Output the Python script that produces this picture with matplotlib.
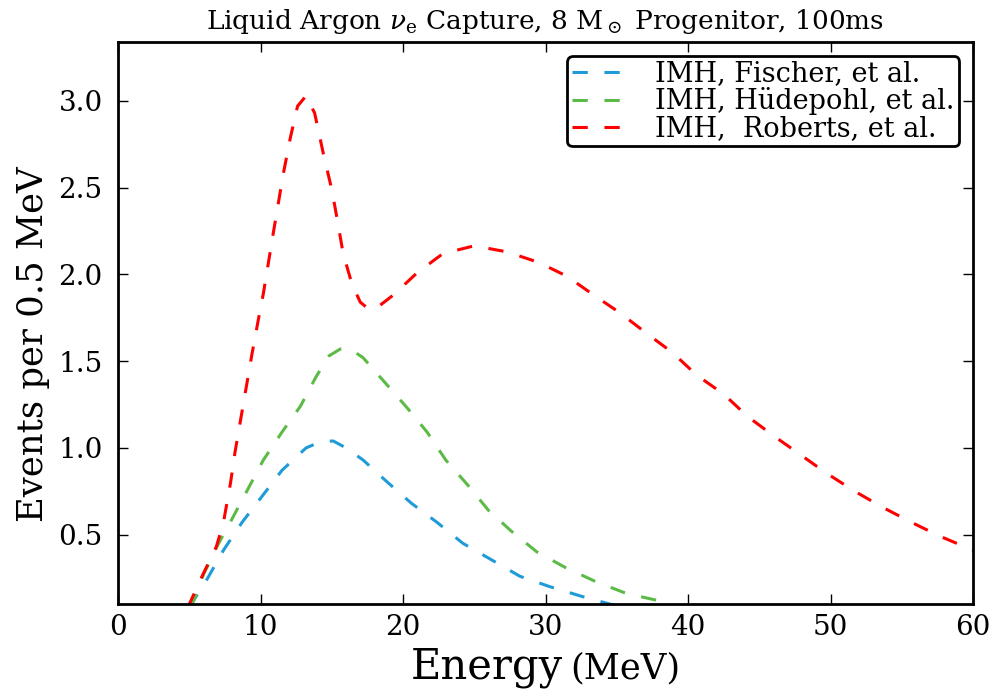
import numpy as np
import matplotlib
matplotlib.use("Agg")
import matplotlib.pyplot as plt

plt.rcParams['font.family'] = ['DejaVu Serif']
plt.rcParams['mathtext.fontset'] = 'dejavuserif'
plt.rcParams['lines.scale_dashes'] = False

# %%
# Fischer et al.
fis_E = [5.0, 5.3, 6.3, 7.4, 8.7, 10.1, 11.5, 13.2, 14.2, 15.1, 16.0, 17.2,
         18.8, 20.6, 22.4, 24.2, 26.1, 28.2, 30.3, 32.5, 34.5, 35.0]
fis_N = [0.08, 0.12, 0.25, 0.41, 0.57, 0.72, 0.87, 1.00, 1.035, 1.04, 1.00, 0.93,
         0.81, 0.68, 0.57, 0.45, 0.36, 0.26, 0.20, 0.145, 0.10, 0.09]

# Huedepohl et al.
hue_E = [5.0, 5.3, 6.0, 7.0, 8.0, 9.1, 10.2, 11.5, 12.8, 13.9, 14.8, 15.6, 16.3,
         17.2, 18.7, 20.3, 21.7, 23.0, 24.5, 26.0, 27.6, 29.4, 31.4, 33.5, 35.7,
         37.9, 38.6]
hue_N = [0.08, 0.116, 0.27, 0.44, 0.59, 0.76, 0.93, 1.09, 1.24, 1.41, 1.53, 1.57, 1.57,
         1.52, 1.38, 1.23, 1.09, 0.93, 0.79, 0.64, 0.52, 0.40, 0.31, 0.23, 0.16,
         0.12, 0.10]

# Roberts et al.
rob_E = [4.9, 5.9, 6.9, 7.4, 7.9, 8.2, 8.6, 9.0, 9.4, 9.85, 10.2, 10.9, 11.6, 12.1,
         12.6, 13.2, 13.8, 14.4, 15.0, 15.4, 15.8, 16.4, 17.0, 17.6, 18.2, 19.3,
         21.0, 22.8, 25.0, 27.3, 29.5, 31.5, 33.4, 35.2, 37.1, 38.9, 40.6, 42.5,
         44.2, 46.0, 47.9, 49.7, 51.7, 53.6, 55.7, 57.7, 60.0]
rob_N = [0.08, 0.26, 0.43, 0.57, 0.80, 0.97, 1.16, 1.35, 1.54, 1.74, 1.89, 2.24, 2.58, 2.79,
         2.97, 3.03, 2.93, 2.70, 2.49, 2.31, 2.12, 1.95, 1.84, 1.80, 1.81, 1.88,
         2.01, 2.12, 2.165, 2.13, 2.07, 1.99, 1.88, 1.78, 1.66, 1.55, 1.42, 1.31,
         1.18, 1.07, 0.96, 0.855, 0.75, 0.66, 0.57, 0.49, 0.41]

labels = ["IMH, Fischer, et al.", u"IMH, H\u00fcdepohl, et al.", "IMH,  Roberts, et al."]
colors = ["#1f9bd7", "#5cbb46", "#ff0000"]

# %%
fig = plt.figure(figsize=(9.94, 6.9), dpi=100)
ax = fig.add_axes([118/994, 1 - 604/690, (973 - 118)/994, (604 - 42)/690])

for E, N, lab, c in zip([fis_E, hue_E, rob_E], [fis_N, hue_N, rob_N], labels, colors):
    ax.plot(E, N, color=c, lw=2.2, label=lab, linestyle=(0, (11.0, 12.0)))

ax.set_xlim(0, 60)
ax.set_ylim(0.1, 3.34)
ax.set_xticks([0, 10, 20, 30, 40, 50, 60])
ax.set_yticks([0.5, 1.0, 1.5, 2.0, 2.5, 3.0])
ax.tick_params(direction='in', length=7, width=1, labelsize=20, top=True, right=True)
ax.tick_params(axis='x', pad=7)
ax.tick_params(axis='y', pad=11)
for s in ax.spines.values():
    s.set_linewidth(2)

ax.set_title(r"Liquid Argon $\nu_{\rm e}$ Capture, $8\ {\rm M}_\odot$ Progenitor, 100ms",
             fontsize=19, pad=9)
fig.text(33/994, 1 - 344/690, "Events per 0.5 MeV", fontsize=25.5, rotation=90,
         ha='center', va='center')
fig.text(563/994, 1 - 678/690, "Energy", fontsize=30, ha='right', va='baseline')
fig.text(570/994, 1 - 678/690, "(MeV)", fontsize=25.5, ha='left', va='baseline')

leg = ax.legend(loc='upper right', fontsize=19.5, handlelength=2.2, labelspacing=0.0,
                fancybox=True, framealpha=1, borderaxespad=0.52, borderpad=0.15,
                handletextpad=0.9)
leg.get_frame().set_edgecolor('black')
leg.get_frame().set_linewidth(2)

fig.savefig("out.png", dpi=100)
